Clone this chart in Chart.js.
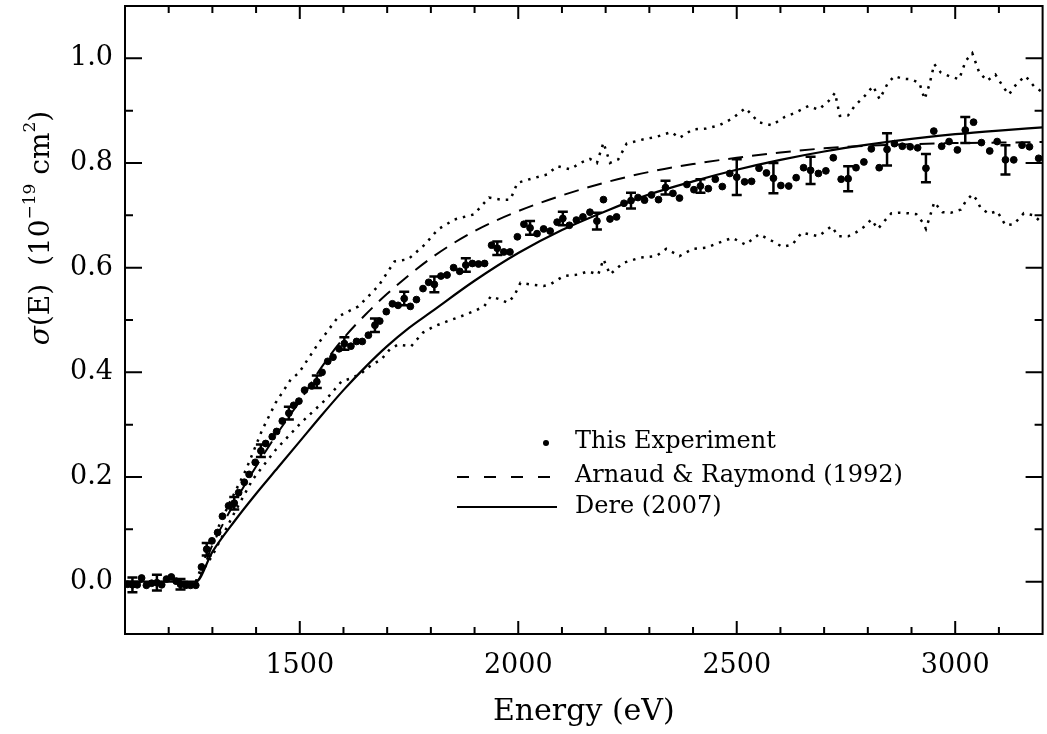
<!DOCTYPE html>
<html>
<head>
<meta charset="utf-8">
<script src="https://cdn.jsdelivr.net/npm/chart.js@4.4.0/dist/chart.umd.min.js"></script>
<style>
  html, body { margin: 0; padding: 0; background: #fff; }
  #wrap { width: 1047px; height: 734px; }
</style>
</head>
<body>
<div id="wrap"><canvas id="sigmaChart" width="1047" height="734"></canvas></div>
<script>
// measured points
var energy = [1106,1117,1128,1138,1149,1161,1173,1184,1195,1206,1217,1227,1239,1250,1262,1275,1287,1299,1312,1323,
  1337,1350,1360,1373,1384,1398,1411,1422,1437,1447,1460,1475,1486,1498,1511,1527,1539,1551,1564,1576,
  1590,1602,1617,1630,1643,1657,1672,1683,1698,1712,1725,1739,1753,1767,1782,1795,1808,1823,1837,1852,
  1866,1880,1895,1909,1923,1939,1952,1967,1981,1998,2013,2027,2043,2058,2073,2089,2102,2117,2133,2148,
  2164,2180,2195,2210,2225,2242,2258,2274,2289,2305,2321,2337,2354,2369,2386,2402,2417,2435,2451,2467,
  2484,2500,2518,2534,2551,2568,2584,2601,2619,2636,2653,2669,2687,2704,2721,2739,2755,2773,2791,2808,
  2826,2844,2861,2879,2897,2914,2933,2951,2969,2986,3005,3023,3042,3060,3079,3096,3115,3134,3153,3170,3191];
var sigma = [-0.005,-0.006,-0.006,0.007,-0.007,-0.003,-0.002,-0.006,0.005,0.009,0.001,-0.005,-0.007,-0.007,-0.007,0.028,0.062,0.078,0.094,0.125,
  0.145,0.150,0.170,0.190,0.205,0.228,0.250,0.264,0.277,0.287,0.307,0.322,0.337,0.345,0.366,0.374,0.382,0.400,0.421,0.429,
  0.445,0.455,0.450,0.459,0.459,0.471,0.490,0.498,0.516,0.531,0.528,0.541,0.526,0.539,0.560,0.572,0.568,0.584,0.586,0.600,
  0.593,0.605,0.608,0.607,0.608,0.643,0.637,0.630,0.630,0.659,0.683,0.676,0.665,0.674,0.670,0.687,0.694,0.681,0.691,0.697,
  0.706,0.689,0.730,0.693,0.697,0.723,0.728,0.734,0.729,0.739,0.730,0.753,0.742,0.733,0.759,0.749,0.756,0.751,0.769,0.755,
  0.780,0.773,0.764,0.765,0.790,0.781,0.771,0.757,0.756,0.772,0.791,0.786,0.780,0.785,0.810,0.769,0.770,0.791,0.802,0.827,
  0.791,0.826,0.837,0.832,0.831,0.829,0.790,0.861,0.832,0.841,0.825,0.863,0.878,0.839,0.823,0.841,0.806,0.806,0.834,0.831,0.809];

// error bars (energy of the point, half size)
var errAt = [1117,1173,1227,1287,1350,1411,1475,1539,1602,1672,1739,1808,1880,1952,2027,2102,2180,2258,2337,2417,2500,2584,2669,2755,2844,2933,3023,3115];
var errSize = [0.014,0.015,0.010,0.012,0.012,0.012,0.012,0.012,0.012,0.013,0.013,0.015,0.013,0.013,0.013,0.013,0.016,0.015,0.013,0.013,0.034,0.029,0.026,0.024,0.031,0.027,0.025,0.028];

// uncertainty band (dotted)
var upperE = [1262,1293,1339,1377,1414,1445,1479,1498,1543,1589,1634,1680,1717,1748,1786,1816,1854,1899,1933,1960,1982,1998,2030,2066,2089,2119,2142,2164,2180,2195,2210,2229,2248,2285,2316,2350,2369,2399,2430,2460,2490,2520,2550,2580,2610,2634,2664,2687,2710,2725,2736,2755,2770,2793,2812,2827,2846,2861,2880,2899,2918,2930,2941,2952,2967,2986,3009,3024,3039,3055,3073,3092,3111,3123,3142,3161,3180,3200];
var upperS = [0,0.067,0.15,0.214,0.29,0.342,0.386,0.399,0.456,0.507,0.526,0.565,0.612,0.616,0.644,0.673,0.692,0.702,0.734,0.730,0.730,0.762,0.77,0.778,0.794,0.788,0.80,0.808,0.80,0.839,0.80,0.807,0.837,0.845,0.85,0.859,0.848,0.864,0.866,0.872,0.885,0.905,0.878,0.872,0.888,0.896,0.909,0.902,0.918,0.934,0.890,0.891,0.909,0.928,0.947,0.922,0.953,0.966,0.961,0.960,0.953,0.922,0.950,0.989,0.973,0.966,0.960,0.995,1.01,0.973,0.957,0.969,0.944,0.931,0.953,0.966,0.947,0.935];
var lowerE = [1262,1300,1350,1392,1445,1502,1562,1596,1619,1642,1661,1687,1706,1725,1755,1782,1808,1839,1869,1899,1922,1937,1960,1975,1990,2005,2028,2058,2073,2104,2138,2160,2183,2195,2210,2240,2278,2316,2339,2369,2399,2430,2460,2490,2520,2551,2581,2604,2627,2649,2687,2717,2733,2755,2774,2793,2808,2823,2839,2854,2873,2892,2911,2926,2933,2947,2952,2971,2990,3013,3024,3039,3049,3058,3077,3096,3115,3134,3157,3180,3200];
var lowerS = [0,0.05,0.131,0.195,0.252,0.303,0.350,0.383,0.389,0.399,0.412,0.425,0.444,0.453,0.45,0.476,0.488,0.498,0.507,0.517,0.526,0.545,0.539,0.533,0.545,0.571,0.568,0.565,0.568,0.584,0.587,0.593,0.587,0.616,0.587,0.609,0.619,0.622,0.636,0.622,0.636,0.638,0.648,0.657,0.644,0.664,0.651,0.64,0.644,0.667,0.66,0.679,0.66,0.66,0.668,0.679,0.692,0.674,0.69,0.704,0.705,0.704,0.702,0.686,0.674,0.711,0.725,0.706,0.705,0.711,0.727,0.740,0.730,0.714,0.703,0.708,0.681,0.683,0.704,0.700,0.684];

// theory curves
var arnaudE = [1100,1262,1300,1350,1400,1450,1500,1550,1600,1650,1700,1800,1900,2000,2100,2200,2300,2400,2500,2600,2700,2800,2900,3000,3100,3200];
var arnaudS = [0,0,0.07,0.15,0.22,0.285,0.345,0.41,0.465,0.51,0.55,0.618,0.67,0.708,0.738,0.763,0.783,0.798,0.81,0.82,0.828,0.833,0.836,0.838,0.839,0.84];
var dereE = [1100,1262,1300,1350,1400,1450,1500,1550,1600,1650,1700,1750,1800,1900,2000,2100,2200,2300,2400,2500,2600,2700,2800,2900,3000,3100,3200];
var dereS = [0,0,0.057,0.115,0.168,0.218,0.268,0.318,0.366,0.41,0.45,0.485,0.515,0.575,0.628,0.672,0.708,0.74,0.765,0.787,0.806,0.822,0.835,0.846,0.855,0.862,0.868];

var xTicks = [1500, 2000, 2500, 3000];
var yTicks = [0.0, 0.2, 0.4, 0.6, 0.8, 1.0];

var FONT = '"DejaVu Serif", "Liberation Serif", serif';

function pairs(xs, ys) {
  return xs.map(function(x, i) { return { x: x, y: ys[i] }; });
}

// frame + inward ticks on all four sides
var framePlugin = {
  id: 'frame',
  afterDraw: function(chart) {
    var ctx = chart.ctx, a = chart.chartArea;
    var xs = chart.scales.x, ys = chart.scales.y;
    ctx.save();
    ctx.strokeStyle = '#000';
    ctx.lineWidth = 2;
    ctx.strokeRect(a.left, a.top, a.right - a.left, a.bottom - a.top);
    ctx.beginPath();
    for (var e = 1200; e < 3200; e += 100) {
      var px = xs.getPixelForValue(e);
      var len = (e % 500 === 0) ? 13 : 7;
      ctx.moveTo(px, a.bottom); ctx.lineTo(px, a.bottom - len);
      ctx.moveTo(px, a.top); ctx.lineTo(px, a.top + len);
    }
    for (var k = 0; k <= 10; k++) {
      var v = k / 10;
      var py = ys.getPixelForValue(v);
      var l2 = (k % 2 === 0) ? 17 : 8;
      ctx.moveTo(a.left, py); ctx.lineTo(a.left + l2, py);
      ctx.moveTo(a.right, py); ctx.lineTo(a.right - l2, py);
    }
    ctx.stroke();
    ctx.restore();
  }
};

var errorBarPlugin = {
  id: 'errorBars',
  afterDatasetsDraw: function(chart) {
    var ctx = chart.ctx, xs = chart.scales.x, ys = chart.scales.y;
    ctx.save();
    ctx.strokeStyle = '#000';
    ctx.lineWidth = 2.5;
    ctx.beginPath();
    errAt.forEach(function(e, i) {
      var idx = energy.indexOf(e);
      if (idx < 0) return;
      var px = xs.getPixelForValue(e);
      var top = ys.getPixelForValue(sigma[idx] + errSize[i]);
      var bot = ys.getPixelForValue(sigma[idx] - errSize[i]);
      ctx.moveTo(px, top); ctx.lineTo(px, bot);
      ctx.moveTo(px - 5, top); ctx.lineTo(px + 5, top);
      ctx.moveTo(px - 5, bot); ctx.lineTo(px + 5, bot);
    });
    ctx.stroke();
    ctx.restore();
  }
};

var legendPlugin = {
  id: 'plotLegend',
  afterDraw: function(chart) {
    var ctx = chart.ctx;
    ctx.save();
    ctx.fillStyle = '#000';
    ctx.strokeStyle = '#000';
    ctx.font = '24px ' + FONT;
    ctx.textBaseline = 'middle';
    ctx.textAlign = 'left';
    ctx.beginPath();
    ctx.arc(546, 443, 3, 0, Math.PI * 2);
    ctx.fill();
    ctx.fillText('This Experiment', 575, 442);
    ctx.lineWidth = 2;
    ctx.setLineDash([12, 15]);
    ctx.beginPath(); ctx.moveTo(457, 477); ctx.lineTo(556, 477); ctx.stroke();
    ctx.fillText('Arnaud & Raymond (1992)', 575, 476);
    ctx.setLineDash([]);
    ctx.beginPath(); ctx.moveTo(457, 507); ctx.lineTo(557, 507); ctx.stroke();
    ctx.fillText('Dere (2007)', 575, 507);
    ctx.restore();
  }
};

// y title with italic sigma and superscripts
var yTitlePlugin = {
  id: 'yTitle',
  afterDraw: function(chart) {
    var ctx = chart.ctx;
    var parts = [
      { t: 'σ', f: 'italic 28px ' + FONT, dy: 0 },
      { t: '(E)  (10', f: '28px ' + FONT, dy: 0 },
      { t: '−19', f: '17px ' + FONT, dy: -11 },
      { t: ' cm', f: '28px ' + FONT, dy: 0 },
      { t: '2', f: '17px ' + FONT, dy: -11 },
      { t: ')', f: '28px ' + FONT, dy: 0 }
    ];
    ctx.save();
    var total = 0;
    parts.forEach(function(p) { ctx.font = p.f; p.w = ctx.measureText(p.t).width; total += p.w; });
    ctx.translate(42, 228);
    ctx.rotate(-Math.PI / 2);
    ctx.fillStyle = '#000';
    ctx.textBaseline = 'middle';
    var x = -total / 2;
    parts.forEach(function(p) {
      ctx.font = p.f;
      ctx.fillText(p.t, x, p.dy);
      x += p.w;
    });
    ctx.restore();
  }
};

var ctx = document.getElementById('sigmaChart').getContext('2d');
var sigmaChart = new Chart(ctx, {
  type: 'scatter',
  data: {
    datasets: [
      {
        label: 'upper',
        type: 'line',
        data: pairs(upperE, upperS),
        borderColor: '#000',
        borderWidth: 2.5,
        borderDash: [2.5, 6],
        pointRadius: 0,
        fill: false
      },
      {
        label: 'lower',
        type: 'line',
        data: pairs(lowerE, lowerS),
        borderColor: '#000',
        borderWidth: 2.5,
        borderDash: [2.5, 6],
        pointRadius: 0,
        fill: false
      },
      {
        label: 'Arnaud & Raymond (1992)',
        type: 'line',
        data: pairs(arnaudE, arnaudS),
        borderColor: '#000',
        borderWidth: 2,
        borderDash: [15, 9],
        pointRadius: 0,
        cubicInterpolationMode: 'monotone',
        fill: false
      },
      {
        label: 'Dere (2007)',
        type: 'line',
        data: pairs(dereE, dereS),
        borderColor: '#000',
        borderWidth: 2.2,
        pointRadius: 0,
        cubicInterpolationMode: 'monotone',
        fill: false
      },
      {
        label: 'This Experiment',
        data: pairs(energy, sigma),
        backgroundColor: '#000',
        borderColor: '#000',
        pointRadius: 3.4,
        pointHoverRadius: 3.4
      }
    ]
  },
  options: {
    responsive: false,
    animation: false,
    layout: { padding: { top: 6, right: 1, left: 0, bottom: 0 } },
    plugins: {
      legend: { display: false },
      tooltip: { enabled: false }
    },
    scales: {
      x: {
        type: 'linear',
        min: 1100,
        max: 3200,
        afterBuildTicks: function(scale) { scale.ticks = xTicks.map(function(v) { return { value: v }; }); },
        afterFit: function(scale) { scale.height = 100; scale.paddingLeft = 0; scale.paddingRight = 0; },
        grid: { display: false, drawTicks: false },
        border: { display: false },
        ticks: {
          color: '#000',
          font: { family: FONT, size: 27 },
          padding: 16,
          maxRotation: 0,
          callback: function(v) { return String(v); }
        },
        title: { display: true, text: 'Energy (eV)', color: '#000', font: { family: FONT, size: 30 }, padding: { top: 0, bottom: 4 } }
      },
      y: {
        type: 'linear',
        min: -0.1,
        max: 1.1,
        afterBuildTicks: function(scale) { scale.ticks = yTicks.map(function(v) { return { value: v }; }); },
        afterFit: function(scale) { scale.width = 125; scale.paddingTop = 0; scale.paddingBottom = 0; },
        grid: { display: false, drawTicks: false },
        border: { display: false },
        ticks: {
          color: '#000',
          font: { family: FONT, size: 27 },
          padding: 12,
          callback: function(v) { return v.toFixed(1); }
        }
      }
    }
  },
  plugins: [framePlugin, errorBarPlugin, legendPlugin, yTitlePlugin]
});
</script>
</body>
</html>
